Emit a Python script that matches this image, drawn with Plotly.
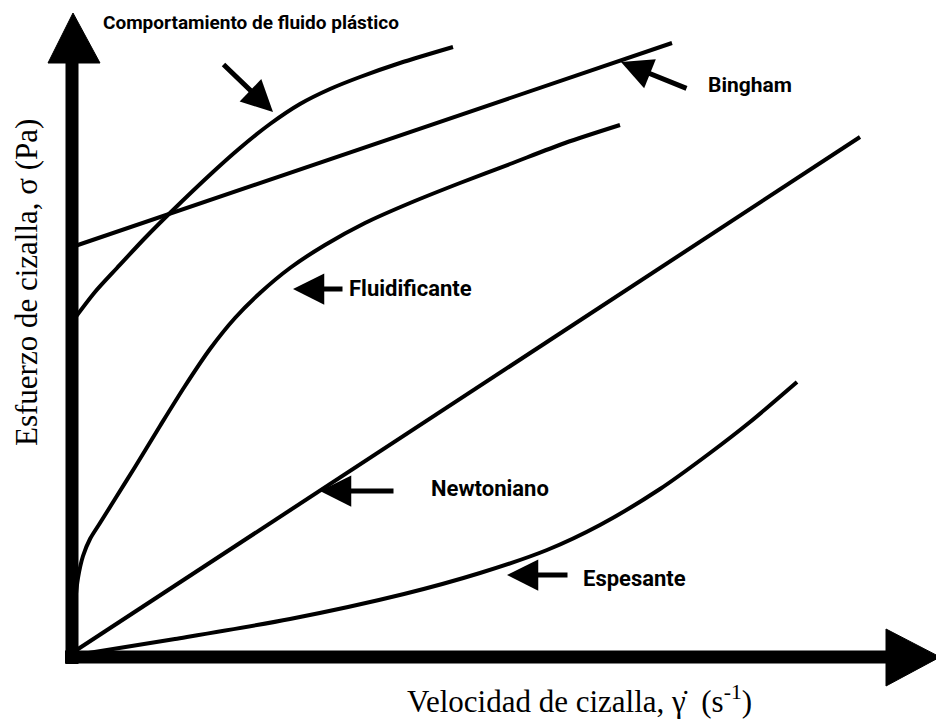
import plotly.graph_objects as go

# ---- data (arbitrary units: shear rate gamma, shear stress sigma) ----
bingham_x = [0.00, 6.00]
bingham_y = [4.10, 6.14]

plastic_x = [0.00, 0.23, 0.45, 0.73, 0.99, 1.41, 1.68, 1.98, 2.28, 2.58, 2.88, 3.28, 3.81]
plastic_y = [3.35, 3.65, 3.89, 4.19, 4.45, 4.85, 5.09, 5.33, 5.53, 5.68, 5.80, 5.94, 6.10]

fluid_x = [0.01, 0.03, 0.06, 0.11, 0.18, 0.28, 0.43, 0.63, 0.88, 1.13, 1.38, 1.63, 1.88,
           2.18, 2.53, 2.93, 3.38, 3.88, 4.38, 4.93, 5.48]
fluid_y = [0.12, 0.52, 0.79, 1.01, 1.18, 1.34, 1.58, 1.90, 2.31, 2.71, 3.08, 3.39, 3.64,
           3.89, 4.12, 4.34, 4.54, 4.74, 4.93, 5.14, 5.32]

newton_x = [0.00, 7.88]
newton_y = [0.04, 5.20]

thick_x = [0.04, 1.03, 2.18, 3.32, 4.08, 4.75, 5.28, 5.88, 6.38, 6.78, 7.25]
thick_y = [0.02, 0.18, 0.38, 0.63, 0.84, 1.07, 1.32, 1.68, 2.04, 2.35, 2.75]

labels = ["Comportamiento de fluido plástico", "Bingham", "Fluidificante", "Newtoniano", "Espesante"]
x_title = "Velocidad de cizalla, γ̇\u00a0 (s<sup>-1</sup>)"
y_title = "Esfuerzo de cizalla, σ (Pa)"

LINE = dict(color="black", width=4)
fig = go.Figure()
for xs, ys, shape in [(bingham_x, bingham_y, "linear"),
                      (plastic_x, plastic_y, "spline"),
                      (fluid_x, fluid_y, "spline"),
                      (newton_x, newton_y, "linear"),
                      (thick_x, thick_y, "spline")]:
    fig.add_trace(go.Scatter(x=xs, y=ys, mode="lines",
                             line=dict(LINE, shape=shape, smoothing=0.8),
                             hoverinfo="skip"))

# axes drawn as thick arrows
fig.add_shape(type="line", x0=0, x1=0, y0=-0.07, y1=5.96, line=dict(color="black", width=13))
fig.add_shape(type="path", path="M -0.24 5.94 L 0.28 5.94 L 0.01 6.44 Z",
              fillcolor="black", line=dict(color="black", width=1))
fig.add_shape(type="line", x0=-0.07, x1=8.18, y0=0, y1=0, line=dict(color="black", width=13))
fig.add_shape(type="path", path="M 8.14 0.28 L 8.14 -0.29 L 8.68 0.0 Z",
              fillcolor="black", line=dict(color="black", width=1))

NARROW = dict(family="Roboto, Liberation Sans Narrow, sans-serif", color="black", weight="bold")
SERIF = dict(family="Liberation Serif, Times New Roman, serif", color="black", size=31)

# label annotations (text)
label_pos = [(1.79, 6.35, 19), (6.78, 5.72, 21), (3.38, 3.69, 22), (4.18, 1.69, 22), (5.62, 0.79, 22)]
for txt, (lx, ly, fs) in zip(labels, label_pos):
    fig.add_annotation(x=lx, y=ly, text=txt, showarrow=False, font=dict(NARROW, size=fs),
                       xanchor="center", yanchor="middle")

# pointer arrows (tip, tail)
arrows = [((2.01, 5.45), (1.50, 5.94)),
          ((5.49, 5.95), (6.16, 5.68)),
          ((2.21, 3.68), (2.72, 3.68)),
          ((2.48, 1.66), (3.23, 1.66)),
          ((4.35, 0.82), (4.97, 0.82))]
for (tx, ty), (ax, ay) in arrows:
    fig.add_annotation(x=tx, y=ty, ax=ax, ay=ay, axref="x", ayref="y", text="",
                       showarrow=True, arrowhead=2, arrowsize=1.25, arrowwidth=5,
                       arrowcolor="black", standoff=0)

fig.add_annotation(x=5.07, y=-0.64, text=x_title, showarrow=False, font=SERIF,
                   xanchor="center", yanchor="bottom")
fig.add_annotation(x=-0.46, y=3.74, text=y_title, showarrow=False, font=SERIF,
                   textangle=-90, xanchor="center", yanchor="middle")

fig.update_layout(width=936, height=725, margin=dict(l=0, r=0, t=0, b=0),
                  paper_bgcolor="white", plot_bgcolor="white", showlegend=False,
                  xaxis=dict(range=[-0.72, 8.64], visible=False, fixedrange=True),
                  yaxis=dict(range=[-0.68, 6.57], visible=False, fixedrange=True))
fig.write_html("out.html", config={"displayModeBar": False},
               post_script="document.body.style.margin='0';document.body.style.overflow='hidden';")
